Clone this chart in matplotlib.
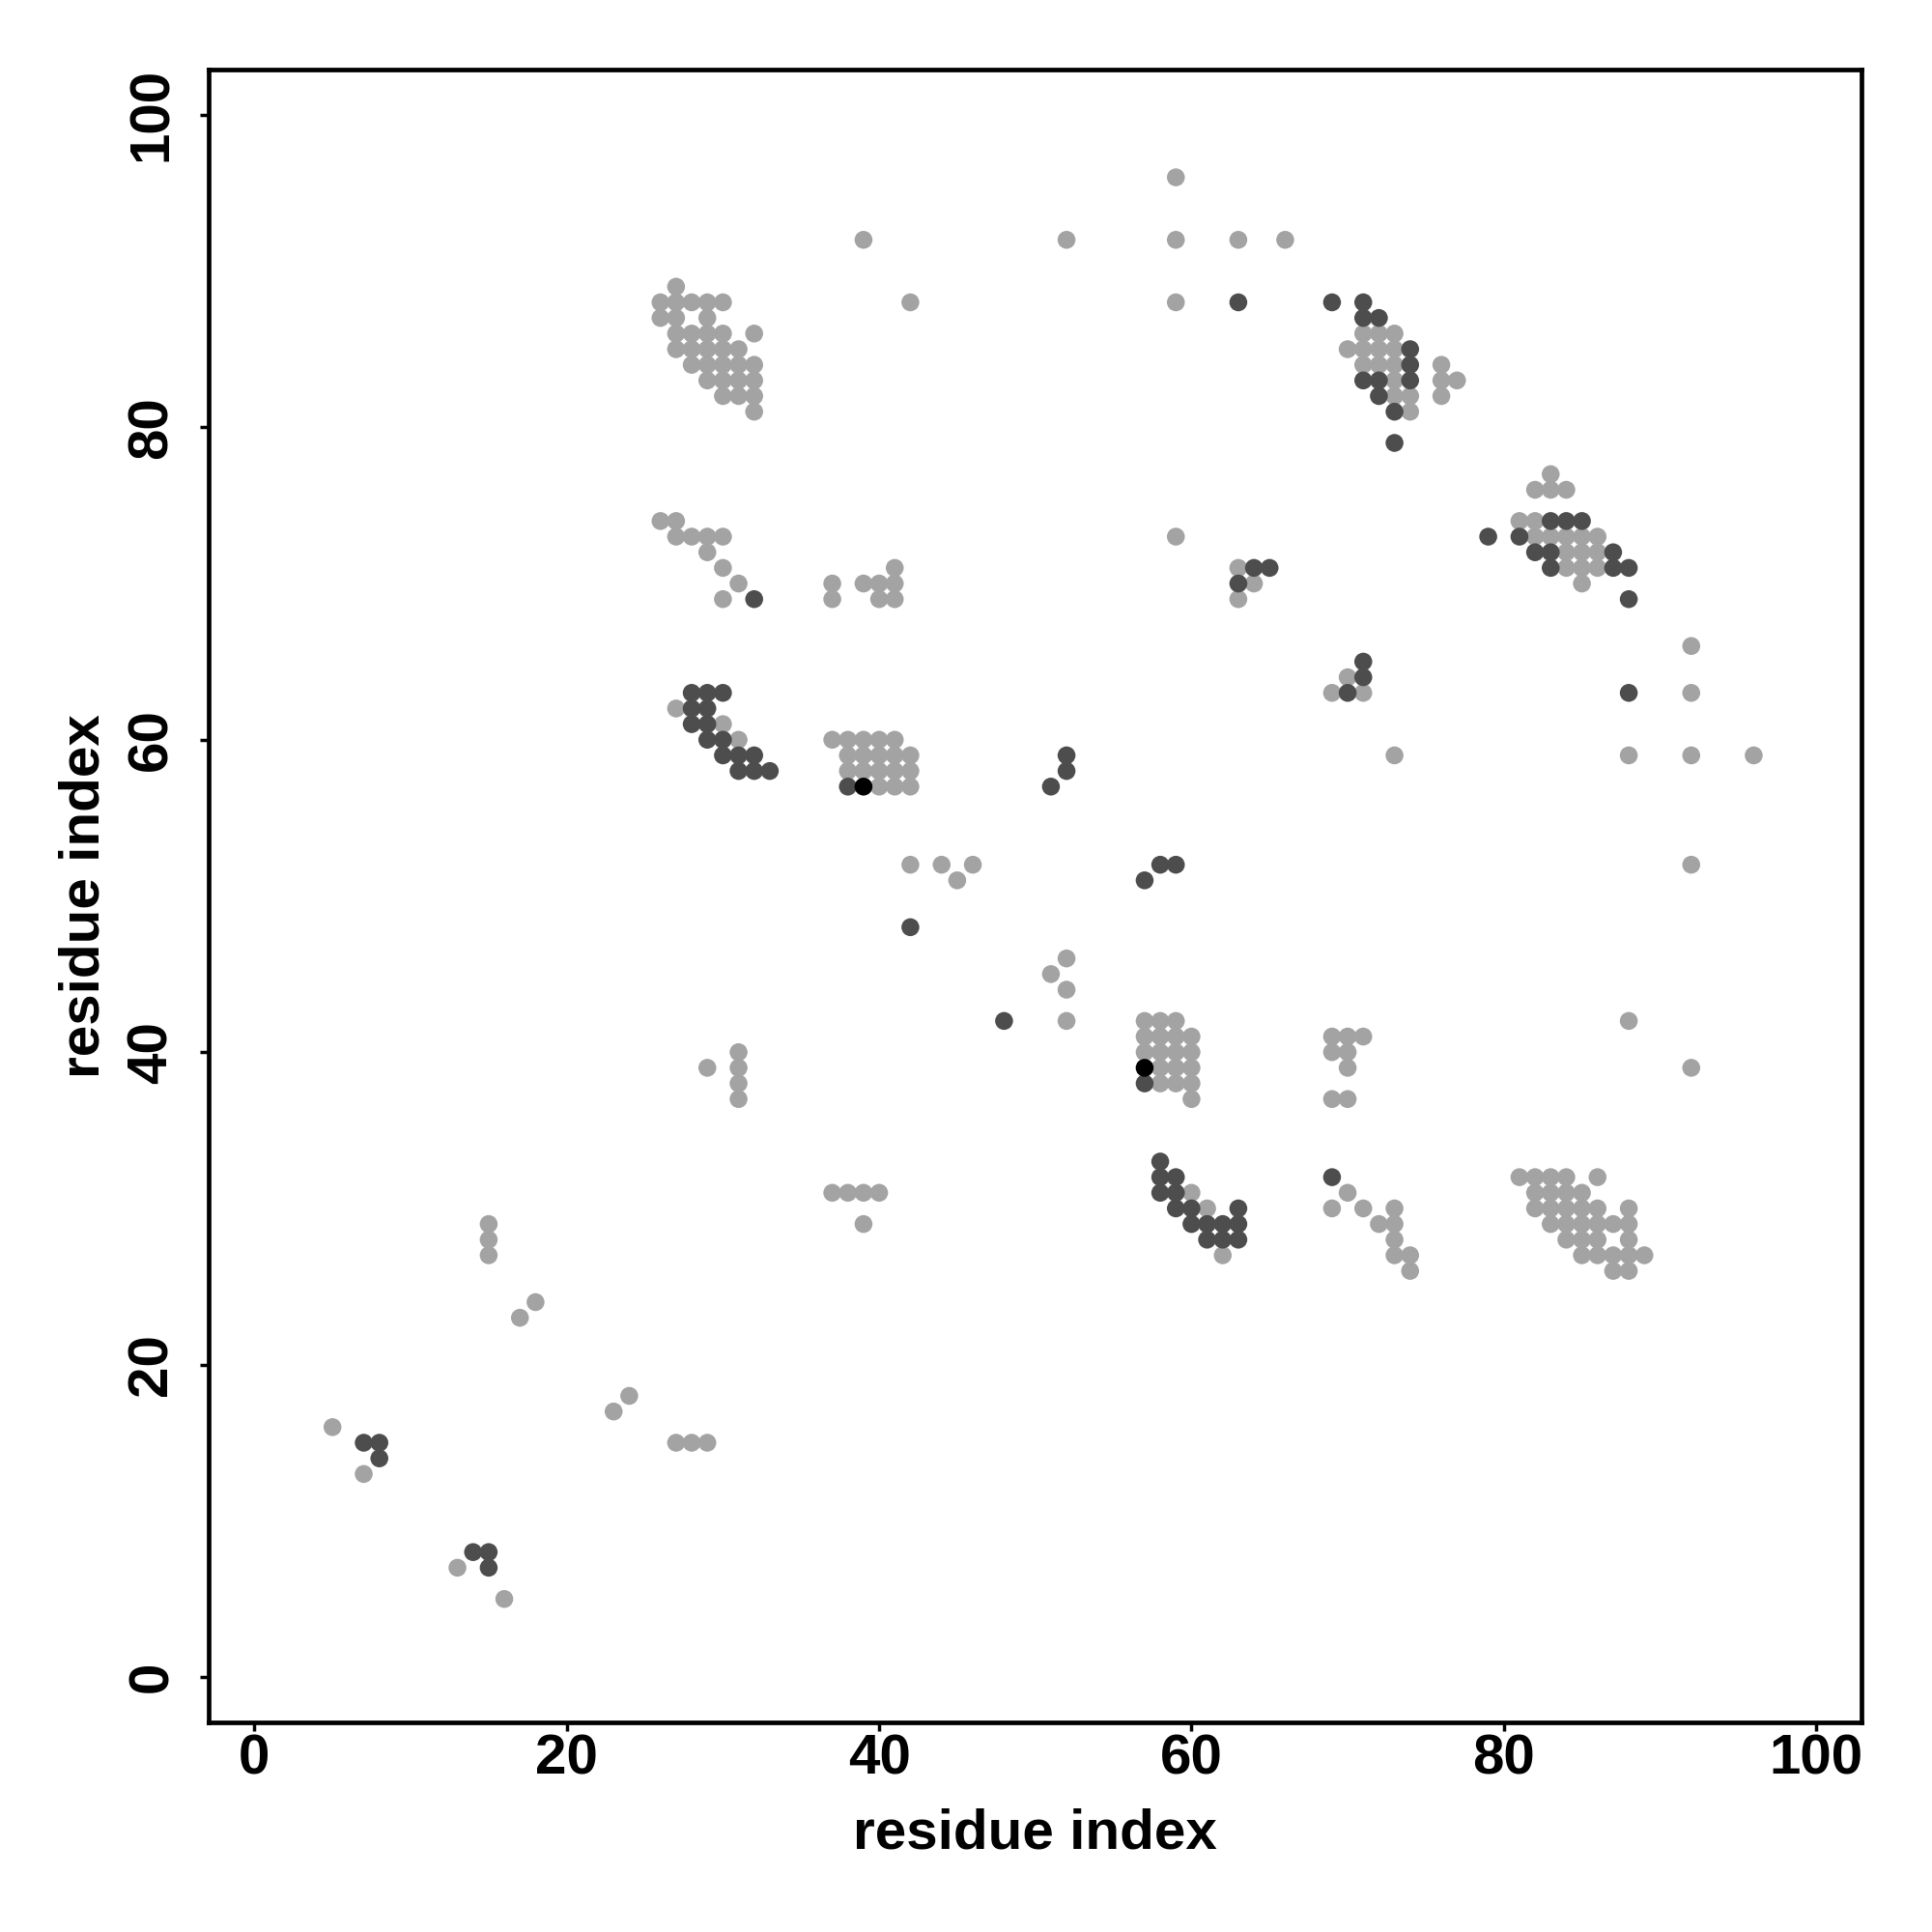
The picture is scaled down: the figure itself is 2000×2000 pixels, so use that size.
import numpy as np
import matplotlib
matplotlib.use("Agg")
import matplotlib.pyplot as plt

# contact pairs (residue i, residue j), grouped by shade
light = [
    (5, 16), (7, 13), (13, 7), (16, 5), (15, 29), (15, 28), (15, 27), (17, 23), (18, 24),
    (23, 17), (24, 18), (27, 15), (28, 15), (29, 15), (29, 39), (31, 40), (31, 39), (31, 38), (31, 37),
    (27, 89), (26, 88), (27, 88), (28, 88), (29, 88), (30, 88), (26, 87), (27, 87), (29, 87),
    (27, 86), (28, 86), (29, 86), (30, 86), (32, 86), (27, 85), (28, 85), (29, 85), (30, 85), (31, 85),
    (28, 84), (29, 84), (30, 84), (31, 84), (32, 84), (29, 83), (30, 83), (31, 83), (32, 83),
    (30, 82), (31, 82), (32, 82), (32, 81),
    (26, 74), (27, 74), (27, 73), (28, 73), (29, 73), (30, 73), (29, 72), (30, 71), (31, 70), (30, 69),
    (37, 70), (37, 69), (39, 70), (40, 70), (41, 70), (41, 71), (40, 69), (41, 69),
    (27, 62), (30, 61), (31, 60),
    (37, 60), (38, 60), (39, 60), (40, 60), (41, 60), (38, 59), (39, 59), (40, 59), (41, 59), (42, 59),
    (38, 58), (39, 58), (40, 58), (41, 58), (42, 58), (40, 57), (41, 57), (42, 57),
    (37, 31), (38, 31), (39, 31), (40, 31), (39, 29),
    (42, 52), (44, 52), (46, 52), (45, 51), (52, 46), (51, 45), (52, 44), (52, 42),
    (39, 92), (42, 88), (52, 92), (59, 96), (59, 92), (59, 88), (63, 92), (66, 92), (59, 73),
    (63, 71), (64, 70), (63, 69),
    (71, 86), (72, 86), (73, 86), (70, 85), (71, 85), (72, 85), (73, 85), (71, 84), (72, 84), (73, 84),
    (76, 84), (73, 83), (76, 83), (77, 83), (73, 82), (74, 82), (76, 82), (74, 81),
    (83, 77), (82, 76), (83, 76), (84, 76), (81, 74), (82, 74), (82, 73), (83, 73), (84, 73), (85, 73),
    (86, 73), (84, 72), (85, 72), (86, 72), (84, 71), (85, 71), (86, 71), (85, 70),
    (92, 66), (92, 63), (88, 59), (92, 59), (96, 59), (92, 52), (88, 42), (92, 39), (73, 59),
    (69, 63), (70, 64), (71, 63),
    (57, 42), (58, 42), (59, 42), (57, 41), (58, 41), (59, 41), (60, 41), (57, 40), (58, 40), (59, 40),
    (60, 40), (58, 39), (59, 39), (60, 39), (58, 38), (59, 38), (60, 38), (60, 37),
    (60, 31), (61, 30), (62, 27),
    (69, 41), (70, 41), (71, 41), (69, 40), (70, 40), (70, 39), (69, 37), (70, 37), (70, 31), (69, 30),
    (71, 30), (73, 30), (72, 29), (73, 29), (73, 28), (73, 27), (74, 27), (74, 26),
    (81, 32), (82, 32), (83, 32), (84, 32), (86, 32), (82, 31), (83, 31), (84, 31), (85, 31),
    (82, 30), (83, 30), (84, 30), (85, 30), (86, 30), (88, 30), (83, 29), (84, 29), (85, 29), (86, 29),
    (87, 29), (88, 29), (84, 28), (85, 28), (86, 28), (88, 28), (85, 27), (86, 27), (87, 27), (88, 27),
    (89, 27), (87, 26), (88, 26),
]

dark = [
    (7, 15), (8, 15), (8, 14), (14, 8), (15, 8), (15, 7),
    (32, 69),
    (28, 63), (29, 63), (30, 63), (28, 62), (29, 62), (28, 61), (29, 61), (29, 60), (30, 60),
    (30, 59), (31, 59), (32, 59), (31, 58), (32, 58), (33, 58), (38, 57),
    (52, 59), (52, 58), (51, 57), (58, 52), (59, 52), (57, 51), (42, 48), (48, 42),
    (63, 88), (63, 70), (64, 71), (65, 71),
    (69, 88), (71, 88), (71, 87), (72, 87), (74, 85), (74, 84), (71, 83), (72, 83), (74, 83),
    (72, 82), (73, 81), (73, 79),
    (83, 74), (84, 74), (85, 74), (79, 73), (81, 73), (82, 72), (83, 72), (87, 72), (83, 71),
    (87, 71), (88, 71), (88, 69),
    (88, 63), (71, 65), (71, 64), (70, 63),
    (57, 38),
    (58, 33), (58, 32), (59, 32), (58, 31), (59, 31), (59, 30), (60, 30), (63, 30), (60, 29),
    (61, 29), (62, 29), (63, 29), (61, 28), (62, 28), (63, 28),
    (69, 32),
]

black = [(39, 57), (57, 39)]

shades = [(light, "#a3a3a3"), (dark, "#4d4d4d"), (black, "#000000")]
ticks = [0, 20, 40, 60, 80, 100]

plt.rcParams["font.family"] = ["Liberation Sans", "DejaVu Sans"]
plt.rcParams["font.weight"] = "bold"

fig = plt.figure(figsize=(20, 20), dpi=100)
ax = fig.add_axes([0.108, 0.1085, 0.8555, 0.8555])

for pts, col in shades:
    p = np.array(pts)
    ax.scatter(p[:, 0], p[:, 1], s=178, c=col, edgecolors="none", zorder=3)

ax.set_xlim(-2.93, 102.9)
ax.set_ylim(-2.9, 102.9)
ax.set_xticks(ticks)
ax.set_yticks(ticks)

for sp in ax.spines.values():
    sp.set_linewidth(3.4)

ax.tick_params(axis="both", length=6.5, width=2.5, labelsize=42)
ax.tick_params(axis="x", pad=2)
ax.tick_params(axis="y", pad=16, labelrotation=90)
for lab in ax.get_yticklabels():
    lab.set_va("center")
for lab in ax.get_xticklabels() + ax.get_yticklabels():
    lab.set_fontweight("bold")

ax.set_xlabel("residue index", fontsize=42, fontweight="bold")
ax.set_ylabel("residue index", fontsize=42, fontweight="bold")
ax.xaxis.label.set_va("baseline")
ax.xaxis.set_label_coords(0.5, -0.076)
ax.yaxis.label.set_va("baseline")
ax.yaxis.set_label_coords(-0.0664, 0.5)

fig.savefig("out.png", dpi=100, facecolor="white")
